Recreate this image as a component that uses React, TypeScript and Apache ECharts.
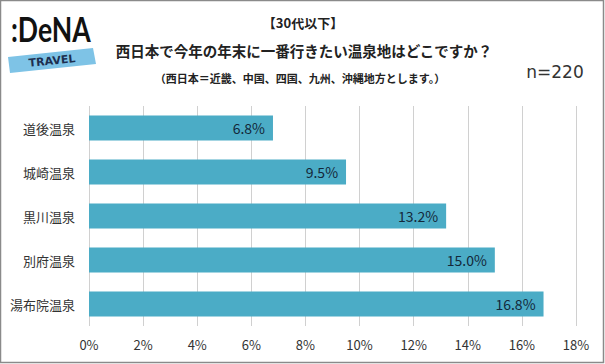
import React, { useEffect, useRef } from "react";
import * as echarts from "echarts";

const categories = ["道後温泉", "城崎温泉", "黒川温泉", "別府温泉", "湯布院温泉"];
const values = [6.8, 9.5, 13.2, 15.0, 16.8];
const titleLine1 = "【30代以下】";
const titleLine2 = "西日本で今年の年末に一番行きたい温泉地はどこですか？";
const titleLine3 = "（西日本＝近畿、中国、四国、九州、沖縄地方とします。）";
const sampleText = "n=220";

const FONT = "'Noto Sans CJK JP', 'Noto Sans', sans-serif";

export default function App() {
  const ref = useRef<HTMLDivElement>(null);
  useEffect(() => {
    if (!ref.current) return;
    const chart = echarts.init(ref.current, null, { renderer: "svg" });
    chart.setOption({
      animation: false,
      backgroundColor: "#ffffff",
      textStyle: { fontFamily: FONT },
      grid: { left: 89, right: 29, top: 106, bottom: 38, containLabel: false },
      xAxis: {
        type: "value",
        min: 0,
        max: 18,
        interval: 2,
        axisLine: { show: false },
        axisTick: { show: false },
        splitLine: { show: true, lineStyle: { color: "#d0d0d0", width: 1 } },
        axisLabel: {
          formatter: "{value}%",
          color: "#333333",
          fontSize: 13,
          margin: 12,
          fontFamily: FONT,
        },
      },
      yAxis: {
        type: "category",
        data: categories,
        inverse: true,
        axisLine: { show: false },
        axisTick: { show: false },
        splitLine: { show: false },
        axisLabel: { color: "#333333", fontSize: 13, margin: 14, fontFamily: FONT },
      },
      series: [
        {
          type: "bar",
          data: values,
          barWidth: 25,
          itemStyle: { color: "#4BACC6" },
          label: {
            show: true,
            position: "insideRight",
            distance: 8,
            formatter: (p: any) => p.value.toFixed(1) + "%",
            color: "#13283a",
            fontSize: 14,
            fontFamily: FONT,
          },
        },
      ],
      graphic: [
        {
          type: "rect",
          shape: { x: 0.5, y: 0.5, width: 603, height: 362 },
          style: { fill: "none", stroke: "#8a8a8a", lineWidth: 1.5 },
          silent: true,
        },
        {
          type: "polygon",
          shape: { points: [[8, 57], [93, 48], [96, 64], [10, 73]] },
          style: { fill: "#7EC3E6" },
        },
        {
          type: "text",
          x: 52,
          y: 61,
          rotation: 0.1,
          style: {
            text: "TRAVEL",
            fill: "#1d2f4f",
            font: "bold 11px 'DejaVu Sans', sans-serif",
            align: "center",
            verticalAlign: "middle",
          },
        },
        {
          type: "text",
          x: 11,
          y: 28,
          scaleX: 0.76,
          style: {
            text: ":DeNA",
            fill: "#111111",
            font: "bold 35px Lato, 'DejaVu Sans', sans-serif",
            align: "left",
            verticalAlign: "middle",
          },
        },
        {
          type: "text",
          x: 303,
          y: 22,
          style: {
            text: titleLine1,
            fill: "#222222",
            font: "bold 13px " + FONT,
            align: "center",
            verticalAlign: "middle",
          },
        },
        {
          type: "text",
          x: 304,
          y: 50,
          style: {
            text: titleLine2,
            fill: "#222222",
            font: "bold 14.5px " + FONT,
            align: "center",
            verticalAlign: "middle",
          },
        },
        {
          type: "text",
          x: 300,
          y: 78,
          style: {
            text: titleLine3,
            fill: "#222222",
            font: "bold 11px " + FONT,
            align: "center",
            verticalAlign: "middle",
          },
        },
        {
          type: "text",
          x: 555,
          y: 72,
          style: {
            text: sampleText,
            fill: "#333333",
            font: "17px 'DejaVu Sans', sans-serif",
            align: "center",
            verticalAlign: "middle",
          },
        },
      ],
    });
    return () => chart.dispose();
  }, []);
  return (
    <div
      ref={ref}
      style={{ position: "absolute", left: 0, top: 0, width: 605, height: 364 }}
    />
  );
}
